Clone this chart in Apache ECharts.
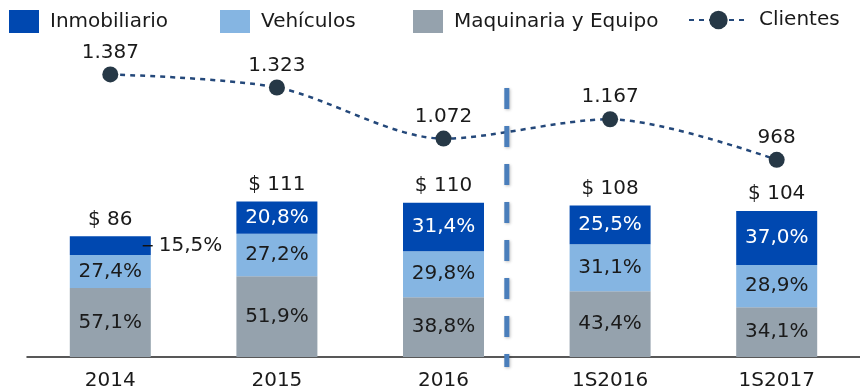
<!DOCTYPE html>
<html>
<head>
<meta charset="utf-8">
<script src="https://cdn.jsdelivr.net/npm/echarts@6/dist/echarts.min.js"></script>
<style>
  html, body { margin: 0; padding: 0; background: #fff; }
  #chart { width: 860px; height: 392px; }
</style>
</head>
<body>
<div id="chart"></div>
<script>
// Periods shown on the x axis
const categories = ['2014', '2015', '2016', '1S2016', '1S2017'];
// Portfolio total (millions) per period
const totals = [86, 111, 110, 108, 104];
// Share of the portfolio by asset type, in percent
const pctInmobiliario = [15.5, 20.8, 31.4, 25.5, 37.0];
const pctVehiculos = [27.4, 27.2, 29.8, 31.1, 28.9];
const pctMaquinaria = [57.1, 51.9, 38.8, 43.4, 34.1];
// Number of clients
const clientes = [1387, 1323, 1072, 1167, 968];

const FONT = 'DejaVu Sans';
const FS = 20;
const TXT = '#1a1a1a';
const C_INM = '#0048b0';
const C_VEH = '#85b5e2';
const C_MAQ = '#95a2ad';
const C_LINE = '#24487a';
const C_DOT = '#263846';

const fmtPct = v => v.toFixed(1).replace('.', ',') + '%';
const fmtThousands = v => String(v).replace(/\B(?=(\d{3})+(?!\d))/g, '.');

// Segment heights are the share of each period's total
const seg = pcts => pcts.map((p, i) => ({ value: totals[i] * p / 100, pct: p }));

const chart = echarts.init(document.getElementById('chart'));

const barLabel = (color) => ({
  show: true,
  position: 'inside',
  color: color,
  fontFamily: FONT,
  fontSize: FS,
  formatter: p => fmtPct(p.data.pct)
});

const legendBase = {
  top: 5,
  itemWidth: 30,
  itemHeight: 23,
  textStyle: { fontFamily: FONT, fontSize: FS, color: TXT, padding: [0, 0, 0, 6] }
};

const inmData = seg(pctInmobiliario);
// The small first segment keeps its label outside the bar, with a short leader
inmData[0] = Object.assign({}, inmData[0], {
  label: {
    position: ['90%', '50%'],
    align: 'left',
    verticalAlign: 'middle',
    color: TXT,
    formatter: p => '{ln|}{v|' + fmtPct(p.data.pct) + '}',
    rich: {
      ln: { width: 10, height: 1.5, backgroundColor: '#111' },
      v: { fontFamily: FONT, fontSize: FS, color: TXT, padding: [0, 0, 0, 6] }
    }
  }
});

chart.setOption({
  animation: false,
  legend: [
    Object.assign({}, legendBase, { left: 4, data: [{ name: 'Inmobiliario', icon: 'rect' }] }),
    Object.assign({}, legendBase, { left: 215, data: [{ name: 'Vehículos', icon: 'rect' }] }),
    Object.assign({}, legendBase, { left: 408, data: [{ name: 'Maquinaria y Equipo', icon: 'rect' }] }),
    Object.assign({}, legendBase, { left: 683, itemWidth: 59, data: ['Clientes'] })
  ],
  grid: { left: 27, right: -9, top: 40, bottom: 35 },
  xAxis: {
    type: 'category',
    data: categories,
    axisTick: { show: false },
    axisLine: { lineStyle: { color: '#222', width: 1.5 } },
    axisLabel: { fontFamily: FONT, fontSize: FS, color: TXT, margin: 14 }
  },
  yAxis: [
    { type: 'value', min: 0, max: 226, show: false },
    { type: 'value', min: 0, max: 1556, show: false }
  ],
  series: [
    {
      name: 'Maquinaria y Equipo', type: 'bar', stack: 'cartera', barWidth: 81,
      itemStyle: { color: C_MAQ }, label: barLabel(TXT), data: seg(pctMaquinaria)
    },
    {
      name: 'Vehículos', type: 'bar', stack: 'cartera',
      itemStyle: { color: C_VEH }, label: barLabel(TXT), data: seg(pctVehiculos)
    },
    {
      name: 'Inmobiliario', type: 'bar', stack: 'cartera',
      itemStyle: { color: C_INM }, label: barLabel('#ffffff'), data: inmData
    },
    {
      // zero-height cap carrying the total above each stack
      name: 'Total', type: 'bar', stack: 'cartera',
      itemStyle: { color: 'transparent' },
      label: {
        show: true, position: 'top', distance: 7,
        fontFamily: FONT, fontSize: FS, color: TXT,
        formatter: p => '$ ' + totals[p.dataIndex]
      },
      data: totals.map(() => 0)
    },
    {
      name: 'Clientes', type: 'line', yAxisIndex: 1, smooth: 0.3,
      symbol: 'circle', symbolSize: 16,
      itemStyle: { color: C_DOT },
      lineStyle: { color: C_LINE, width: 2.5, type: [5, 5] },
      label: {
        show: true, position: 'top', distance: 4,
        fontFamily: FONT, fontSize: FS, color: TXT,
        formatter: p => fmtThousands(p.value)
      },
      z: 5,
      data: clientes
    }
  ]
});

// Dashed divider separating full years from half-year periods
function drawDivider() {
  const a = chart.convertToPixel({ xAxisIndex: 0 }, '2016');
  const b = chart.convertToPixel({ xAxisIndex: 0 }, '1S2016');
  const x = a + (b - a) * 0.38;
  const y0 = chart.convertToPixel({ yAxisIndex: 1 }, 1320);
  const y1 = chart.convertToPixel({ yAxisIndex: 0 }, 0) + 10;
  chart.setOption({
    graphic: [{
      type: 'line', z: 10,
      shape: { x1: x, y1: y0, x2: x, y2: y1 },
      style: {
        stroke: '#4a7ebb', lineWidth: 5, lineDash: [21, 17],
        shadowBlur: 3, shadowColor: 'rgba(0,0,0,0.25)', shadowOffsetX: 1, shadowOffsetY: 1
      }
    }]
  });
}
drawDivider();
</script>
</body>
</html>
